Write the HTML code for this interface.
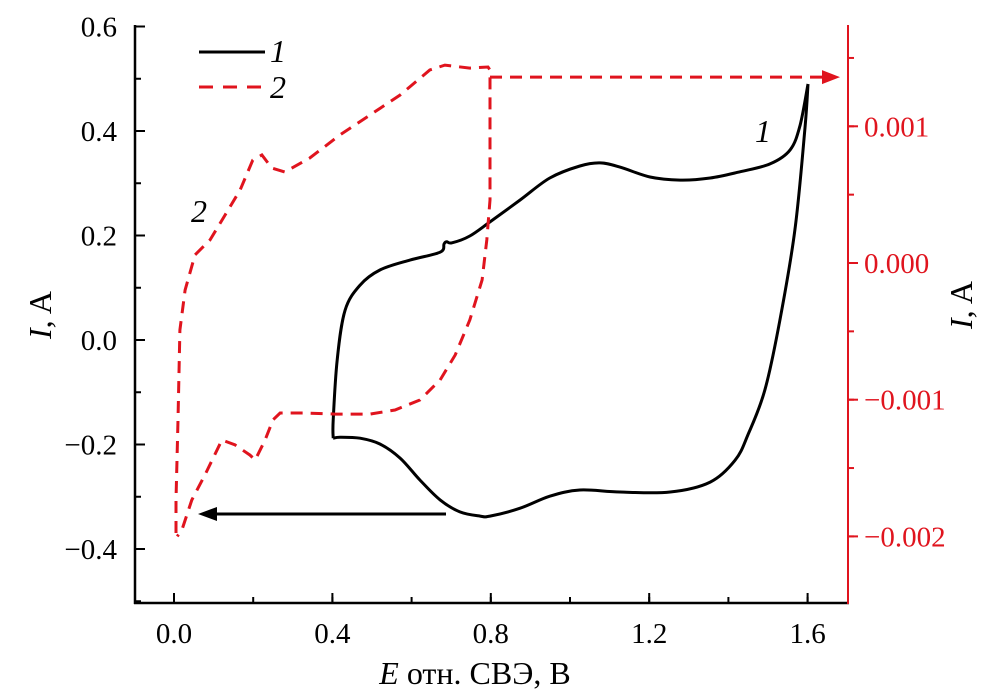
<!DOCTYPE html>
<html><head><meta charset="utf-8"><style>
body{margin:0;background:#fff}
svg{display:block;font-family:"Liberation Serif",serif}
</style></head><body>
<svg id="c" width="997" height="694" viewBox="0 0 997 694">
</svg>
<script>
const xTicks=[0.0,0.4,0.8,1.2,1.6];
const xTickLabels=["0.0","0.4","0.8","1.2","1.6"];
const yTicks=[0.6,0.4,0.2,0.0,-0.2,-0.4];
const yTickLabels=["0.6","0.4","0.2","0.0","\u22120.2","\u22120.4"];
const y2Ticks=[0.001,0.000,-0.001,-0.002];
const y2TickLabels=["0.001","0.000","\u22120.001","\u22120.002"];
const s1E=[0.402,0.402,0.412,0.432,0.470,0.520,0.596,0.672,0.682,0.689,0.702,0.747,0.798,0.874,0.949,1.025,1.076,1.126,1.202,1.278,1.354,1.429,1.505,1.556,1.581,1.601,1.593,1.568,1.530,1.492,1.449,1.417,1.354,1.253,1.126,1.025,0.949,0.874,0.798,0.773,0.722,0.672,0.621,0.571,0.520,0.470,0.419,0.402];
const s1I=[-0.188,-0.153,-0.038,0.057,0.105,0.134,0.153,0.168,0.184,0.188,0.186,0.199,0.226,0.268,0.310,0.333,0.339,0.331,0.312,0.306,0.310,0.322,0.337,0.364,0.411,0.490,0.402,0.211,0.038,-0.096,-0.182,-0.230,-0.272,-0.291,-0.291,-0.287,-0.299,-0.322,-0.337,-0.337,-0.329,-0.306,-0.268,-0.226,-0.199,-0.188,-0.186,-0.188];
const s2E=[0.005,0.005,0.010,0.015,0.028,0.053,0.091,0.129,0.167,0.199,0.222,0.247,0.280,0.343,0.419,0.495,0.571,0.646,0.684,0.747,0.793,0.798,0.798,0.790,0.778,0.747,0.710,0.672,0.621,0.558,0.495,0.407,0.331,0.268,0.250,0.230,0.205,0.192,0.154,0.121,0.078,0.045,0.020,0.008];
const s2I=[-0.001975,-0.001734,-0.001148,-0.000490,-0.000198,0.000059,0.000168,0.000351,0.000534,0.000753,0.000790,0.000695,0.000666,0.000768,0.000936,0.001083,0.001229,0.001412,0.001448,0.001426,0.001434,0.001412,0.000461,0.000168,-0.000124,-0.000417,-0.000673,-0.000856,-0.001002,-0.001075,-0.001105,-0.001105,-0.001097,-0.001097,-0.001148,-0.001295,-0.001441,-0.001405,-0.001331,-0.001295,-0.001551,-0.001734,-0.001953,-0.002000];
const arrow2I=0.001360;
const arrow1I=-0.331;

const X=e=>174+e*396;
const Y=v=>340-v*522.5;
const Y2=v=>263-v*136700;
const svg=document.getElementById('c');
const NS='http://www.w3.org/2000/svg';
function mk(tag,attrs,text){const el=document.createElementNS(NS,tag);for(const k in attrs)el.setAttribute(k,attrs[k]);if(text!==undefined)el.textContent=text;svg.appendChild(el);return el;}
function smooth(pts){let d='M'+pts[0][0].toFixed(1)+','+pts[0][1].toFixed(1);
 for(let i=0;i<pts.length-1;i++){const p0=pts[Math.max(0,i-1)],p1=pts[i],p2=pts[i+1],p3=pts[Math.min(pts.length-1,i+2)];
  const c1=[p1[0]+(p2[0]-p0[0])/6,p1[1]+(p2[1]-p0[1])/6],c2=[p2[0]-(p3[0]-p1[0])/6,p2[1]-(p3[1]-p1[1])/6];
  d+='C'+c1.map(v=>v.toFixed(1)).join(',')+' '+c2.map(v=>v.toFixed(1)).join(',')+' '+p2[0].toFixed(1)+','+p2[1].toFixed(1);}
 return d;}
const RED='#e0141e';
// axes
let a=mk('line',{x1:135,y1:25,x2:135,y2:604,stroke:'#000','stroke-width':2.5});

a=mk('line',{x1:134,y1:603,x2:849,y2:603,stroke:'#000','stroke-width':2.5});

a=mk('line',{x1:848,y1:25,x2:848,y2:604,stroke:RED,'stroke-width':2});

for(let v=-0.1;v<=1.75;v+=0.2){const x=X(v+0.1);if(x>136&&x<846)mk('line',{x1:x,y1:603,x2:x,y2:597,stroke:'#000','stroke-width':2});}
xTicks.forEach((v,i)=>{const x=X(v);mk('line',{x1:x,y1:603,x2:x,y2:593,stroke:'#000','stroke-width':2});
 const t=mk('text',{x:x,y:643,'font-size':29,'text-anchor':'middle'},xTickLabels[i]);
 });
for(let v=-0.5;v<=0.65;v+=0.1){const y=Y(v);if(y>24&&y<604)mk('line',{x1:135,y1:y,x2:141,y2:y,stroke:'#000','stroke-width':2});}
yTicks.forEach((v,i)=>{const y=Y(v);mk('line',{x1:135,y1:y,x2:145,y2:y,stroke:'#000','stroke-width':2});
 const t=mk('text',{x:117,y:y+10,'font-size':29,'text-anchor':'end'},yTickLabels[i]);
 });
for(let v=-0.0025;v<=0.0016;v+=0.0005){const y=Y2(v);if(y>24&&y<604)mk('line',{x1:848,y1:y,x2:854,y2:y,stroke:RED,'stroke-width':2});}
y2Ticks.forEach((v,i)=>{const y=Y2(v);mk('line',{x1:848,y1:y,x2:858,y2:y,stroke:RED,'stroke-width':2});
 const t=mk('text',{x:864,y:y+10,'font-size':29,fill:RED},y2TickLabels[i]);
 });
let t=mk('text',{x:475,y:684,'font-size':32,'text-anchor':'middle'});
t.innerHTML='<tspan font-style="italic">E</tspan> отн. СВЭ, В';

t=mk('text',{x:0,y:0,'font-size':32,'text-anchor':'middle',transform:'translate(51,315) rotate(-90)'});
t.innerHTML='<tspan font-style="italic">I</tspan>, A';

t=mk('text',{x:0,y:0,'font-size':32,'text-anchor':'middle',transform:'translate(972,305) rotate(-90)'});
t.innerHTML='<tspan font-style="italic">I</tspan>, A';

// series 1 (smoothed, split at turning corners)
const pts1=s1E.map((e,i)=>[X(e),Y(s1I[i])]);
const d1=smooth(pts1.slice(0,26))+smooth(pts1.slice(25));
let p=mk('path',{d:d1,fill:'none',stroke:'#000','stroke-width':3,'stroke-linejoin':'round'});

let d2=s2E.map((e,i)=>(i?'L':'M')+X(e).toFixed(1)+','+Y2(s2I[i]).toFixed(1)).join('');
p=mk('path',{d:d2,fill:'none',stroke:RED,'stroke-width':3,'stroke-dasharray':'12,8'});

const ay2=Y2(arrow2I);
p=mk('line',{x1:X(0.798),y1:ay2,x2:826,y2:ay2,stroke:RED,'stroke-width':3,'stroke-dasharray':'12,8'});

mk('polygon',{points:`840,${ay2} 822,${ay2-7} 822,${ay2+7}`,fill:RED});
const ay1=Y(arrow1I)+1;
p=mk('line',{x1:446,y1:ay1,x2:212,y2:ay1,stroke:'#000','stroke-width':3});

mk('polygon',{points:`198,${ay1} 217,${ay1-7} 217,${ay1+7}`,fill:'#000'});
t=mk('text',{x:755,y:142,'font-size':32,'font-style':'italic'},'1');

t=mk('text',{x:191,y:222,'font-size':32,'font-style':'italic'},'2');

let g=mk('g',{});
mk('line',{x1:199,y1:52,x2:265,y2:52,stroke:'#000','stroke-width':3});
t=mk('text',{x:270,y:62,'font-size':32,'font-style':'italic'},'1');

mk('line',{x1:199,y1:87,x2:265,y2:87,stroke:RED,'stroke-width':3,'stroke-dasharray':'14,10'});
t=mk('text',{x:270,y:98,'font-size':32,'font-style':'italic'},'2');

</script>
</body></html>
